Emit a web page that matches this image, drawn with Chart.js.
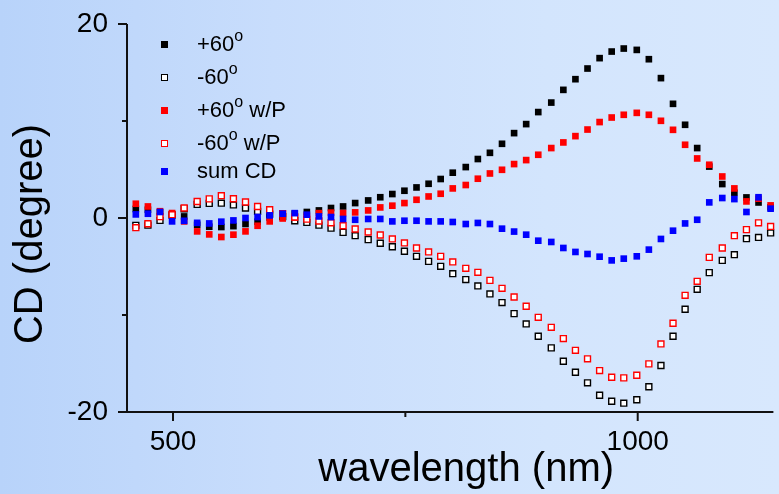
<!DOCTYPE html>
<html>
<head>
  <title>CD spectra</title>
  <script src="https://cdn.jsdelivr.net/npm/chart.js"></script>
  <style>
    body { margin: 0; overflow: hidden; }
    #wrap {
      position: relative; width: 779px; height: 494px;
      background: linear-gradient(to right, #b8d3fa 0%, #c8ddfc 35%, #d3e5fd 70%, #d8e8fd 100%);
      font-family: "Liberation Sans", Arial, sans-serif;
    }
    #myChart { position: absolute; left: 0; top: 0; }
    .row { position: absolute; left: 0; height: 22px; line-height: 22px; font-size: 22px; white-space: nowrap; color: #000; }
    .mark { position: absolute; left: 161px; top: 7.5px; width: 7px; height: 7px; box-sizing: border-box; }
    .txt { position: absolute; left: 197px; top: 0; }
    .txt sup { font-size: 16px; line-height: 0; vertical-align: baseline; position: relative; top: -10px; }
  </style>
</head>
<body>
  <div id="wrap">
    <canvas id="myChart" width="779" height="494"></canvas>
    <div id="legend"></div>
  </div>

  <script>
    // wavelength (nm)
    const wavelength = [460, 473, 486, 499, 512, 526, 539, 552, 565, 578, 591, 604, 618, 631, 644,
      657, 670, 683, 696, 710, 723, 736, 749, 762, 775, 788, 801, 815, 828, 841, 854, 867, 880,
      893, 907, 920, 933, 946, 959, 972, 985, 999, 1012, 1025, 1038, 1051, 1064, 1077, 1091,
      1104, 1117, 1130, 1143];

    const plus60 = [0.93, 0.85, 0.6, 0.4, 0.16, -0.7, -0.9, -0.93, -0.84, -0.62, -0.38, 0.05, 0.25,
      0.45, 0.62, 0.78, 1.03, 1.19, 1.54, 1.81, 2.14, 2.47, 2.81, 3.15, 3.53, 4.02, 4.67, 5.25,
      6.08, 6.72, 7.65, 8.75, 9.68, 10.92, 11.9, 13.21, 14.31, 15.41, 16.48, 17.16, 17.47, 17.33,
      16.37, 14.42, 11.77, 9.61, 7.21, 5.3, 3.5, 2.6, 2.12, 1.6, 1.1];

    const minus60 = [-0.76, -0.74, -0.25, 0.3, 0.95, 1.4, 1.5, 1.53, 1.35, 1.03, 0.68, 0.4, 0.15,
      -0.28, -0.45, -0.74, -1.05, -1.48, -1.82, -2.23, -2.6, -2.96, -3.43, -3.95, -4.47, -4.98,
      -5.74, -6.35, -7.0, -7.83, -8.72, -9.86, -10.92, -12.19, -13.39, -14.77, -15.9, -16.99,
      -18.27, -18.89, -19.09, -18.74, -17.4, -15.21, -12.19, -9.41, -7.35, -5.63, -4.37, -3.78,
      -2.13, -2.0, -1.54];

    const plus60P = [1.47, 1.19, 0.7, 0.51, -0.35, -1.38, -1.69, -1.96, -1.72, -1.38, -0.8, -0.35,
      -0.05, 0.06, 0.2, 0.5, 0.55, 0.51, 0.58, 0.78, 1.09, 1.27, 1.54, 1.88, 2.22, 2.5, 3.05, 3.4,
      4.05, 4.59, 4.97, 5.56, 5.97, 6.52, 7.21, 7.79, 8.44, 9.12, 9.89, 10.36, 10.64, 10.84, 10.64,
      10.02, 9.09, 7.55, 6.14, 5.49, 4.28, 3.05, 1.71, 1.99, 1.3];

    const minus60P = [-1.0, -0.59, 0.14, 0.34, 1.03, 1.7, 1.97, 2.3, 1.98, 1.65, 1.19, 0.85, 0.45,
      0.1, -0.12, -0.31, -0.5, -0.8, -1.13, -1.44, -1.75, -2.16, -2.57, -3.09, -3.5, -3.95, -4.53,
      -5.19, -5.6, -6.43, -7.25, -8.14, -9.1, -10.24, -11.27, -12.43, -13.64, -14.52, -15.73,
      -16.42, -16.48, -16.21, -15.04, -12.98, -10.85, -7.97, -6.53, -4.06, -3.09, -1.82, -1.2,
      -0.5, -0.87];

    const sumCD = [0.37, 0.44, 0.62, -0.35, -0.29, -0.5, -0.56, -0.38, -0.25, 0, 0.1, 0.27, 0.44,
      0.5, 0.34, 0.16, 0.1, -0.1, -0.18, -0.1, -0.1, -0.35, -0.28, -0.28, -0.35, -0.35, -0.41,
      -0.62, -0.51, -0.62, -1.1, -1.4, -1.72, -2.34, -2.47, -3.09, -3.5, -3.71, -3.99, -4.37,
      -4.19, -3.95, -3.26, -2.16, -1.31, -0.56, -0.18, 1.61, 2.06, 1.95, 0.62, 2.14, 0.96];

    const seriesNames = ['+60°', '-60°', '+60° w/P', '-60° w/P', 'sum CD'];
    const xTicks = [500, 750, 1000];
    const xTickLabels = ['500', '', '1000'];
    const yTicks = [-20, -10, 0, 10, 20];
    const yTickLabels = ['-20', '', '0', '', '20'];
    const xTitle = 'wavelength (nm)';
    const yTitle = 'CD (degree)';

    const FONT = '"Liberation Sans", Arial, sans-serif';

    const series = [
      { name: seriesNames[0], values: plus60, color: '#000000', open: false },
      { name: seriesNames[1], values: minus60, color: '#000000', open: true },
      { name: seriesNames[2], values: plus60P, color: '#ff0000', open: false },
      { name: seriesNames[3], values: minus60P, color: '#ff0000', open: true },
      { name: seriesNames[4], values: sumCD, color: '#0000ff', open: false }
    ];

    // later series sit on top, like in the original plot
    const datasets = series.map((s, i) => ({
      label: s.name,
      data: wavelength.map((w, k) => ({ x: w, y: s.values[k] })),
      showLine: false,
      pointStyle: 'rect',
      pointRadius: s.open ? 4.2 : 4.7,
      pointBorderWidth: s.open ? 1.4 : 0,
      pointBorderColor: s.color,
      pointBackgroundColor: s.open ? '#ffffff' : s.color,
      order: series.length - i,
      clip: false
    }));

    // axis lines and tick marks (minor ticks shorter)
    const axesPlugin = {
      id: 'axes',
      afterLayout(chart) {
        // axis titles in the original are centred a little off the plot centre
        chart.scales.x.right = chart.chartArea.right + 32;
        chart.scales.y.bottom = chart.chartArea.bottom + 32;
      },
      beforeDatasetsDraw(chart) {
        const { ctx, chartArea: a, scales: { x, y } } = chart;
        ctx.save();
        ctx.strokeStyle = '#111';
        ctx.lineWidth = 2;
        ctx.beginPath();
        ctx.moveTo(a.left, a.top);
        ctx.lineTo(a.left, a.bottom);
        ctx.lineTo(a.right, a.bottom);
        yTicks.forEach((v, i) => {
          const p = y.getPixelForValue(v);
          ctx.moveTo(a.left - (yTickLabels[i] ? 9 : 5), p);
          ctx.lineTo(a.left, p);
        });
        xTicks.forEach((v, i) => {
          const p = x.getPixelForValue(v);
          ctx.moveTo(p, a.bottom);
          ctx.lineTo(p, a.bottom + (xTickLabels[i] ? 9 : 5));
        });
        ctx.stroke();
        ctx.restore();
      }
    };

    const ctx = document.getElementById('myChart').getContext('2d');
    new Chart(ctx, {
      type: 'scatter',
      data: { datasets: datasets },
      options: {
        responsive: false,
        animation: false,
        events: [],
        layout: { padding: { top: 24, left: 0, right: 0, bottom: 0 } },
        plugins: { legend: { display: false }, tooltip: { enabled: false } },
        scales: {
          x: {
            type: 'linear', min: 450.5, max: 1146,
            afterBuildTicks: s => { s.ticks = xTicks.map(v => ({ value: v })); },
            afterFit: s => { s.height = 82; },
            // grid hidden; tickLength only spaces the labels, ticks are drawn by the plugin
            grid: { display: false, drawTicks: true, tickLength: 13 },
            border: { display: false },
            ticks: {
              callback: (v, i) => xTickLabels[i],
              padding: 0, maxRotation: 0, autoSkip: false,
              color: '#000', font: { size: 28, family: FONT }
            },
            title: { display: true, text: xTitle, color: '#000', padding: 0, font: { size: 40, family: FONT } }
          },
          y: {
            type: 'linear', min: -20, max: 20,
            afterBuildTicks: s => { s.ticks = yTicks.map(v => ({ value: v })); },
            afterFit: s => { s.width = 127; },
            grid: { display: false, drawTicks: true, tickLength: 19 },
            border: { display: false },
            ticks: {
              callback: (v, i) => yTickLabels[i],
              padding: 0, autoSkip: false,
              color: '#000', font: { size: 28, family: FONT }
            },
            title: { display: true, text: yTitle, color: '#000', padding: { top: 7, bottom: 0 }, font: { size: 40, family: FONT } }
          }
        }
      },
      plugins: [axesPlugin]
    });

    // legend drawn as html so the degree sign can be a raised "o"
    const legendRows = [44, 77, 110, 143, 171];
    const legend = document.getElementById('legend');
    series.forEach((s, i) => {
      const row = document.createElement('div');
      row.className = 'row';
      row.style.top = (legendRows[i] - 11) + 'px';
      const mark = document.createElement('div');
      mark.className = 'mark';
      mark.style.background = s.open ? '#fff' : s.color;
      if (s.open) mark.style.border = '1.4px solid ' + s.color;
      const txt = document.createElement('span');
      txt.className = 'txt';
      txt.innerHTML = s.name.replace('°', '<sup>o</sup>');
      row.appendChild(mark);
      row.appendChild(txt);
      legend.appendChild(row);
    });
  </script>
</body>
</html>
